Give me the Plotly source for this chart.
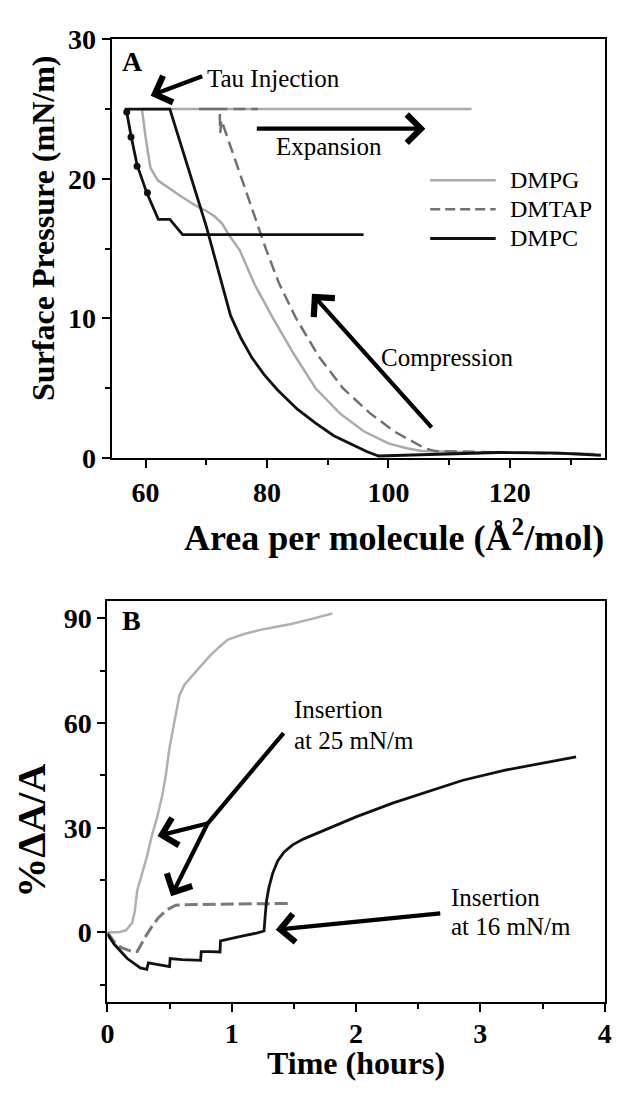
import plotly.graph_objects as go

W, H = 619, 1093
SERIF = "Liberation Serif"

# ---------------- Panel A data (area per molecule, surface pressure) ----------------
dmpg_area = [134, 125, 115, 108, 105.5, 103, 100, 96, 92, 88, 84.5, 81, 78, 75.5, 73.7,
             72.6, 71.4, 70, 68.2, 66, 64, 62, 60.8, 60.0, 59.4, 70, 90, 113.7]
dmpg_press = [0.3, 0.4, 0.4, 0.45, 0.5, 0.7, 1.05, 1.9, 3.2, 5.0, 7.4, 10.0, 12.4, 14.9, 16.0,
              16.8, 17.3, 17.7, 18.1, 18.7, 19.3, 19.9, 20.8, 23.0, 25.0, 25.0, 25.0, 25.0]

dmtap_area = [132, 122, 112, 107.7, 106, 104.5, 101, 97, 92.5, 88.5, 84.8, 82, 79.8, 76,
              72.5, 72.3, 72.2, 68.8, 78.5]
dmtap_press = [0.3, 0.4, 0.45, 0.5, 0.7, 1.05, 1.9, 3.2, 5.0, 7.3, 10.0, 12.5, 15.0, 19.8,
               24.2, 23.3, 25.0, 25.0, 25.0]

dmpc_area = [135, 128, 118, 108, 100, 98.4, 96.5, 94.4, 91, 88, 85, 81.7, 79.5, 77.5, 75.7,
             74, 72.3, 70, 67, 64, 60, 56.8, 57.6, 58.6, 60.2, 62.1, 64.0, 66.1, 80, 95.9]
dmpc_press = [0.2, 0.35, 0.4, 0.3, 0.2, 0.15, 0.45, 0.9, 1.6, 2.5, 3.5, 4.9, 6.0, 7.2, 8.6,
              10.2, 13.0, 16.6, 20.8, 25.0, 25.0, 25.0, 23.1, 21.0, 19.0, 17.1, 17.1, 16.0,
              16.0, 16.0]

dmpc_dot_area = [56.9, 57.6, 58.6, 60.3]
dmpc_dot_press = [24.8, 23.0, 20.9, 19.0]

# ---------------- Panel B data (time, %dA/A) ----------------
time_dmpg = [0, 0.1, 0.15, 0.2, 0.22, 0.24, 0.28, 0.32, 0.36, 0.40, 0.44, 0.47, 0.50, 0.53,
             0.555, 0.58, 0.62, 0.68, 0.75, 0.82, 0.9, 0.97, 1.10, 1.23, 1.35, 1.47, 1.63, 1.81]
dA_dmpg = [0, 0.1, 0.6, 2.8, 6, 12, 17, 22, 28, 33, 39, 45, 53, 58.7,
           64, 68, 71, 73.5, 76.5, 79.1, 81.8, 83.9, 85.5, 86.7, 87.5, 88.3, 89.7, 91.4]

time_dmtap = [0, 0.05, 0.108, 0.2, 0.24, 0.29, 0.31, 0.36, 0.41, 0.48, 0.55, 0.7, 0.9, 1.1, 1.3, 1.48]
dA_dmtap = [0, -2.5, -4.3, -5.5, -5.5, -2.0, -1.0, 1.8, 4.2, 6.5, 7.8, 8.0, 8.1, 8.2, 8.2, 8.3]

time_dmpc = [0, 0.055, 0.16, 0.265, 0.317, 0.33, 0.42, 0.50, 0.505, 0.6, 0.75, 0.755, 0.83,
             0.906, 0.91, 1.0, 1.1, 1.2, 1.26, 1.27, 1.28, 1.30, 1.33, 1.37, 1.42, 1.49, 1.58,
             1.68, 2.0, 2.3, 2.6, 2.86, 3.2, 3.5, 3.77]
dA_dmpc = [-0.5, -3.4, -7.5, -10.2, -10.6, -8.7, -9.3, -9.8, -7.5, -7.8, -8.0, -5.5, -5.5,
           -5.6, -2.4, -1.6, -0.9, -0.2, 0.4, 5, 9, 13, 17, 20.5, 23.0, 25.1, 26.8,
           28.3, 33.1, 37.1, 40.7, 43.6, 46.5, 48.6, 50.3]

series_names = ["DMPG", "DMTAP", "DMPC"]
a_xticks = [60, 80, 100, 120]
a_yticks = [0, 10, 20, 30]
b_xticks = [0, 1, 2, 3, 4]
b_yticks = [0, 30, 60, 90]

C_PG = "#aaaaaa"
C_TAP = "#707070"
C_PC = "#111111"


def P(px):
    return px / W


def Q(py):
    return 1 - py / H


fig = go.Figure()

# Panel A traces
fig.add_trace(go.Scatter(x=dmpg_area, y=dmpg_press, mode="lines", name="DMPG",
                         line=dict(color=C_PG, width=2.5), showlegend=False,
                         xaxis="x", yaxis="y"))
fig.add_trace(go.Scatter(x=dmtap_area, y=dmtap_press, mode="lines", name="DMTAP",
                         line=dict(color=C_TAP, width=2.5, dash="12px,6px"), showlegend=False,
                         xaxis="x", yaxis="y"))
fig.add_trace(go.Scatter(x=dmpc_area, y=dmpc_press, mode="lines", name="DMPC",
                         line=dict(color=C_PC, width=2.8), showlegend=False,
                         xaxis="x", yaxis="y"))
fig.add_trace(go.Scatter(x=dmpc_dot_area, y=dmpc_dot_press, mode="markers", name="DMPC",
                         marker=dict(color=C_PC, size=7), showlegend=False,
                         xaxis="x", yaxis="y"))

# Panel B traces
fig.add_trace(go.Scatter(x=time_dmpg, y=dA_dmpg, mode="lines", name="DMPG",
                         line=dict(color="#b0b0b0", width=2.5), showlegend=False,
                         xaxis="x2", yaxis="y2"))
fig.add_trace(go.Scatter(x=time_dmtap, y=dA_dmtap, mode="lines", name="DMTAP",
                         line=dict(color="#7a7a7a", width=3, dash="13px,5px"), showlegend=False,
                         xaxis="x2", yaxis="y2"))
fig.add_trace(go.Scatter(x=time_dmpc, y=dA_dmpc, mode="lines", name="DMPC",
                         line=dict(color=C_PC, width=2.8), showlegend=False,
                         xaxis="x2", yaxis="y2"))

tickfont = dict(family=SERIF, size=28, color="black", weight="bold")
axis_common = dict(showline=True, linecolor="black", linewidth=2, mirror=True,
                   ticks="outside", ticklen=8, tickwidth=2, tickcolor="black",
                   showgrid=False, zeroline=False, tickfont=tickfont)

fig.update_layout(
    width=W, height=H,
    margin=dict(l=0, r=0, t=0, b=0),
    paper_bgcolor="white", plot_bgcolor="white",
    showlegend=False,
    xaxis=dict(domain=[P(107), P(612)], range=[54.4, 135.7], anchor="y",
               tickvals=a_xticks,
               minor=dict(ticks="outside", ticklen=5, tickwidth=1.5, tickcolor="black", dtick=10,
                          tick0=0),
               **axis_common),
    yaxis=dict(domain=[Q(456), Q(25)], range=[0, 30], anchor="x",
               tickvals=a_yticks,
               minor=dict(ticks="outside", ticklen=5, tickwidth=1.5, tickcolor="black", dtick=5,
                          tick0=0),
               **axis_common),
    xaxis2=dict(domain=[P(102.7), P(611.5)], range=[0, 4], anchor="y2",
                tickvals=b_xticks, ticklabelstandoff=-3,
                minor=dict(ticks="outside", ticklen=5, tickwidth=1.5, tickcolor="black",
                           dtick=0.5, tick0=0),
                **axis_common),
    yaxis2=dict(domain=[Q(1016), Q(603)], range=[-20, 95], anchor="x2",
                tickvals=b_yticks,
                minor=dict(ticks="outside", ticklen=5, tickwidth=1.5, tickcolor="black",
                           dtick=15, tick0=0),
                **axis_common),
)

annots = []


def text(px, py, s, size=25, bold=False, xanchor="left", yanchor="middle", angle=0):
    annots.append(dict(x=P(px), y=Q(py), xref="paper", yref="paper", text=s, showarrow=False,
                       xanchor=xanchor, yanchor=yanchor, textangle=angle,
                       font=dict(family=SERIF, size=size, color="black",
                                 weight="bold" if bold else "normal")))


def arrow(hx, hy, tx, ty, width=4.2):
    annots.append(dict(x=P(hx), y=Q(hy), xref="paper", yref="paper",
                       ax=tx - hx, ay=ty - hy, axref="pixel", ayref="pixel",
                       text="", showarrow=True, arrowhead=4, arrowsize=1.3,
                       arrowwidth=width, arrowcolor="black"))


# Panel labels
text(128, 47.5, "A", size=28, bold=True, xanchor="center")
text(127, 623.5, "B", size=28, bold=True, xanchor="center")

# Axis titles
text(396, 536, "Area per molecule (Å<sup>2</sup>/mol)", size=36, bold=True, xanchor="center")
text(37, 220, "Surface Pressure (mN/m)", size=32, bold=True, xanchor="center", angle=-90)
text(357, 1079, "Time (hours)", size=32, bold=True, xanchor="center")
text(25, 839, "%ΔA/A", size=40, bold=True, xanchor="center", angle=-90)

# Panel A annotations
text(203, 65, "Tau Injection")
arrow(147, 83, 200, 63)
arrow(428, 117, 258, 117)
text(273, 135, "Expansion")
arrow(312, 287, 433, 422)
text(381, 352, "Compression")

# Manual legend (panel A)
legend_y = [170, 200, 230]
legend_styles = [dict(color=C_PG, width=2.5), dict(color=C_TAP, width=2.5, dash="10px,5px"),
                 dict(color=C_PC, width=2.8)]
shapes = []
for name, ly, st in zip(series_names, legend_y, legend_styles):
    shapes.append(dict(type="line", xref="paper", yref="paper", x0=P(433), x1=P(500),
                       y0=Q(ly), y1=Q(ly), line=st))
    text(513, ly, name, size=24)

# Panel B annotations
text(292, 715, "Insertion")
text(292, 747, "at 25 mN/m")
shapes.append(dict(type="line", xref="paper", yref="paper", x0=P(283), y0=Q(739),
                   x1=P(205.5), y1=Q(832), line=dict(color="black", width=4.2)))
arrow(154, 845, 205.5, 832)
arrow(168, 907, 205.5, 832)
text(452, 908, "Insertion")
text(452, 938, "at 16 mN/m")
arrow(275, 941.5, 441, 925)

fig.update_layout(annotations=annots, shapes=shapes)

fig.write_html("out.html")
